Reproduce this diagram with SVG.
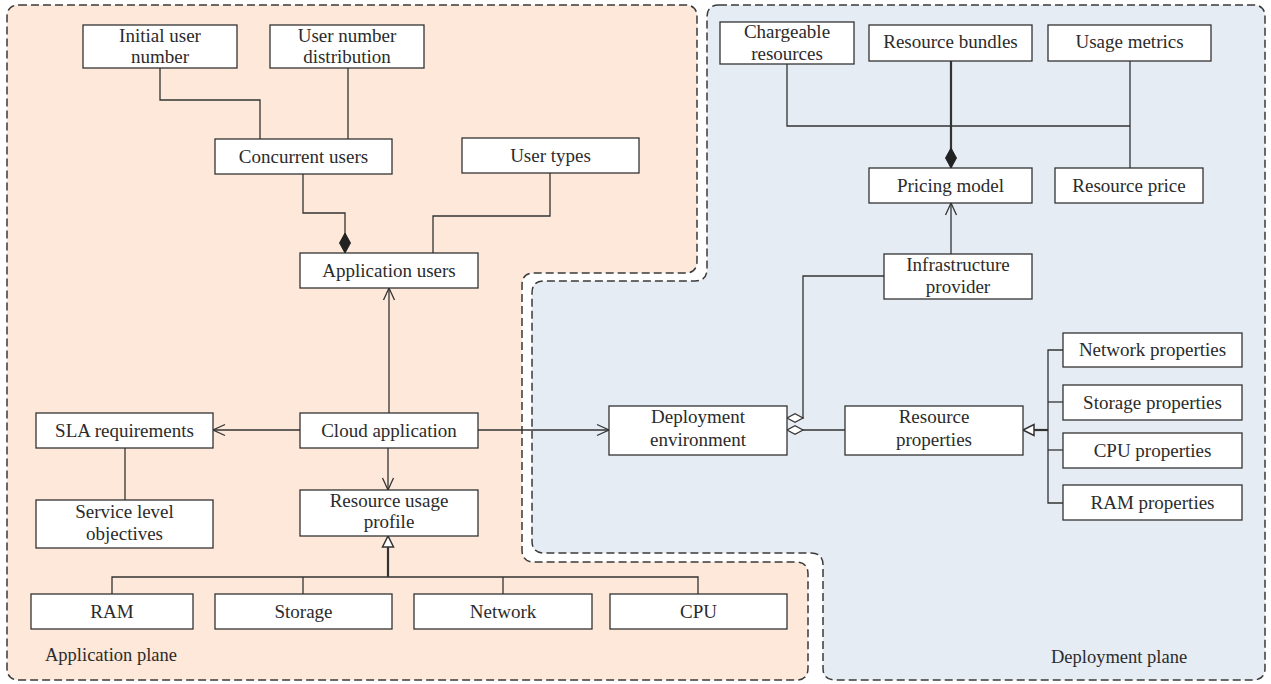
<svg xmlns="http://www.w3.org/2000/svg" width="1271" height="684" viewBox="0 0 1271 684">
<style>
.plane{stroke:#3a3a3a;stroke-width:1.5;stroke-dasharray:8 4;}
.app{fill:#fde8da;}
.dep{fill:#e5ecf4;}
.box{fill:#ffffff;stroke:#333333;stroke-width:1.3;}
.t{font-family:"Liberation Serif","Times New Roman",serif;font-size:19px;fill:#2b2b2b;text-anchor:middle;}
.lbl{font-family:"Liberation Serif","Times New Roman",serif;font-size:18.5px;fill:#2b2b2b;}
.c{fill:none;stroke:#333333;stroke-width:1.3;}
.thick{stroke-width:2.2;}
</style>
<defs>
<marker id="open" markerUnits="userSpaceOnUse" markerWidth="16" markerHeight="14" viewBox="-14 -7 16 14" refX="0" refY="0" orient="auto" overflow="visible">
<path d="M-12,-5.5 L0,0 L-12,5.5" fill="none" stroke="#333333" stroke-width="1.3"/>
</marker>
<marker id="fdia" markerUnits="userSpaceOnUse" markerWidth="24" markerHeight="14" viewBox="-22 -7 24 14" refX="0" refY="0" orient="auto" overflow="visible">
<path d="M0,0 L-10,-5.5 L-20,0 L-10,5.5 Z" fill="#222222" stroke="#222222" stroke-width="1"/>
</marker>
<marker id="hdia" markerUnits="userSpaceOnUse" markerWidth="20" markerHeight="12" viewBox="-18 -6 20 12" refX="0" refY="0" orient="auto" overflow="visible">
<path d="M0,0 L-8,-4.2 L-16,0 L-8,4.2 Z" fill="#ffffff" stroke="#333333" stroke-width="1.2"/>
</marker>
<marker id="tri" markerUnits="userSpaceOnUse" markerWidth="14" markerHeight="14" viewBox="-13 -7 14 14" refX="0" refY="0" orient="auto" overflow="visible">
<path d="M0,0 L-11,-5.5 L-11,5.5 Z" fill="#ffffff" stroke="#333333" stroke-width="1.5"/>
</marker>
</defs>

<g id="planes">
<path class="plane app" d="M19,5 H685 Q697,5 697,17 V261 Q697,273 685,273 H534 Q522,273 522,285 V550 Q522,562 534,562 H796 Q808,562 808,574 V668 Q808,680 796,680 H19 Q7,680 7,668 V17 Q7,5 19,5 Z"/>
<path class="plane dep" d="M719,5 H1253 Q1265,5 1265,17 V668 Q1265,680 1253,680 H835 Q823,680 823,668 V565 Q823,553 811,553 H544 Q532,553 532,541 V293 Q532,281 544,281 H695 Q707,281 707,269 V17 Q707,5 719,5 Z"/>
<text class="lbl" x="45" y="661">Application plane</text>
<text class="lbl" x="1051" y="663">Deployment plane</text>
</g>

<g id="connectors">
<path class="c" d="M160,68 V100 H260 V139"/>
<path class="c" d="M348,68 V139"/>
<path class="c" d="M303,174 V213 H345 V253" marker-end="url(#fdia)"/>
<path class="c" d="M550,173 V216 H433 V253"/>
<path class="c" d="M389,413 V288" marker-end="url(#open)"/>
<path class="c" d="M300,430 H213" marker-end="url(#open)"/>
<path class="c" d="M125,448 V500"/>
<path class="c" d="M388,448 V490" marker-end="url(#open)"/>
<path class="c" d="M112,594 V577 H698 V594"/>
<path class="c" d="M303,577 V594"/>
<path class="c" d="M503,577 V594"/>
<path class="c thick" d="M388,577 V536" marker-end="url(#tri)"/>
<path class="c" d="M478,430 H609" marker-end="url(#open)"/>
<path class="c" d="M884,276 H803 V418 H787" marker-end="url(#hdia)"/>
<path class="c" d="M845,430 H787" marker-end="url(#hdia)"/>
<path class="c" d="M951,254 V203" marker-end="url(#open)"/>
<path class="c thick" d="M951,61 V168" marker-end="url(#fdia)"/>
<path class="c" d="M787,64 V126 H1130"/>
<path class="c" d="M1130,61 V168"/>
<path class="c thick" d="M1048,430 H1023" marker-end="url(#tri)"/>
<path class="c" d="M1063,350 H1048 V503 H1063"/>
<path class="c" d="M1048,402 H1063"/>
<path class="c" d="M1048,450 H1063"/>
</g>

<g id="initial-user-number"><rect class="box" x="83" y="25" width="154" height="43"/><text class="t" x="160" y="42">Initial user</text><text class="t" x="160" y="63">number</text></g>
<g id="user-number-distribution"><rect class="box" x="270" y="25" width="154" height="43"/><text class="t" x="347" y="42">User number</text><text class="t" x="347" y="63">distribution</text></g>
<g id="concurrent-users"><rect class="box" x="215" y="139" width="177" height="35"/><text class="t" x="303.5" y="162.5">Concurrent users</text></g>
<g id="user-types"><rect class="box" x="462" y="138" width="177" height="35"/><text class="t" x="550.5" y="161.5">User types</text></g>
<g id="application-users"><rect class="box" x="300" y="253" width="178" height="35"/><text class="t" x="389" y="276.5">Application users</text></g>
<g id="sla-requirements"><rect class="box" x="36" y="413" width="177" height="35"/><text class="t" x="124.5" y="436.5">SLA requirements</text></g>
<g id="cloud-application"><rect class="box" x="300" y="413" width="178" height="35"/><text class="t" x="389" y="436.5">Cloud application</text></g>
<g id="service-level-objectives"><rect class="box" x="36" y="500" width="177" height="48"/><text class="t" x="124.5" y="518">Service level</text><text class="t" x="124.5" y="540">objectives</text></g>
<g id="resource-usage-profile"><rect class="box" x="300" y="490" width="178" height="46"/><text class="t" x="389" y="507">Resource usage</text><text class="t" x="389" y="528">profile</text></g>
<g id="ram"><rect class="box" x="31" y="594" width="162" height="35"/><text class="t" x="112" y="617.5">RAM</text></g>
<g id="storage"><rect class="box" x="215" y="594" width="177" height="35"/><text class="t" x="303.5" y="617.5">Storage</text></g>
<g id="network"><rect class="box" x="414" y="594" width="178" height="35"/><text class="t" x="503" y="617.5">Network</text></g>
<g id="cpu"><rect class="box" x="610" y="594" width="177" height="35"/><text class="t" x="698.5" y="617.5">CPU</text></g>

<g id="chargeable-resources"><rect class="box" x="720" y="22" width="134" height="42"/><text class="t" x="787" y="38">Chargeable</text><text class="t" x="787" y="60">resources</text></g>
<g id="resource-bundles"><rect class="box" x="869" y="25" width="163" height="36"/><text class="t" x="950.5" y="48">Resource bundles</text></g>
<g id="usage-metrics"><rect class="box" x="1048" y="25" width="163" height="36"/><text class="t" x="1129.5" y="48">Usage metrics</text></g>
<g id="pricing-model"><rect class="box" x="869" y="168" width="163" height="35"/><text class="t" x="950.5" y="191.5">Pricing model</text></g>
<g id="resource-price"><rect class="box" x="1055" y="168" width="148" height="35"/><text class="t" x="1129" y="191.5">Resource price</text></g>
<g id="infrastructure-provider"><rect class="box" x="884" y="254" width="148" height="45"/><text class="t" x="958" y="271">Infrastructure</text><text class="t" x="958" y="293">provider</text></g>
<g id="deployment-environment"><rect class="box" x="609" y="406" width="178" height="49"/><text class="t" x="698" y="423">Deployment</text><text class="t" x="698" y="446">environment</text></g>
<g id="resource-properties"><rect class="box" x="845" y="406" width="178" height="49"/><text class="t" x="934" y="423">Resource</text><text class="t" x="934" y="446">properties</text></g>
<g id="network-properties"><rect class="box" x="1063" y="333" width="179" height="34"/><text class="t" x="1152.5" y="356">Network properties</text></g>
<g id="storage-properties"><rect class="box" x="1063" y="385" width="179" height="35"/><text class="t" x="1152.5" y="408.5">Storage properties</text></g>
<g id="cpu-properties"><rect class="box" x="1063" y="433" width="179" height="35"/><text class="t" x="1152.5" y="456.5">CPU properties</text></g>
<g id="ram-properties"><rect class="box" x="1063" y="485" width="179" height="35"/><text class="t" x="1152.5" y="508.5">RAM properties</text></g>
</svg>
